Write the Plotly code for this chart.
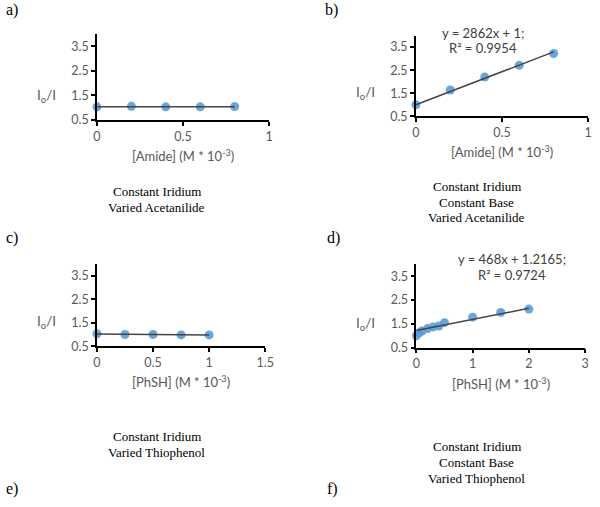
import numpy as np
import plotly.graph_objects as go

W, H = 600, 507

# ---------------- data ----------------
a_x = [0, 0.2, 0.4, 0.6, 0.8]
a_y = [1.03, 1.05, 1.03, 1.03, 1.04]

b_x = [0, 0.2, 0.4, 0.6, 0.8]
b_y = [1.0, 1.64, 2.2, 2.71, 3.22]
b_slope, b_intercept = 2862, 1.0          # y = 2862x + 1 (x in M)

c_x = [0, 0.25, 0.5, 0.75, 1.0]
c_y = [1.03, 1.0, 1.0, 0.98, 0.98]

d_x = [0, 0.05, 0.1, 0.2, 0.3, 0.4, 0.5, 1.0, 1.5, 2.0]
d_y = [1.0, 1.12, 1.2, 1.3, 1.37, 1.41, 1.55, 1.78, 1.98, 2.12]
d_slope, d_intercept = 468, 1.2165        # y = 468x + 1.2165 (x in M)

x_unit = 1e-3  # axis is M * 10^-3

y_ticks = [0.5, 1.5, 2.5, 3.5]

panel_letters = ["a)", "b)", "c)", "d)", "e)", "f)"]
eq_b = ["y = 2862x + 1;", "R² = 0.9954"]
eq_d = ["y = 468x + 1.2165;", "R² = 0.9724"]
cap_a = ["Constant Iridium", "Varied Acetanilide"]
cap_b = ["Constant Iridium", "Constant Base", "Varied Acetanilide"]
cap_c = ["Constant Iridium", "Varied Thiophenol"]
cap_d = ["Constant Iridium", "Constant Base", "Varied Thiophenol"]
xtitle_amide = "[Amide] (M * 10<sup>-3</sup>)"
xtitle_phsh = "[PhSH] (M * 10<sup>-3</sup>)"
ytitle = "I<sub>o</sub>/I"

# ---------------- style ----------------
SANS = "Lato, 'Open Sans', sans-serif"
TICKFONT = dict(family=SANS, size=12.5, color="#595959")
SERIF = "'Liberation Serif', 'Times New Roman', serif"
MARKER = dict(color="#5B9BD5", size=9, opacity=0.9)
TREND = dict(color="#454545", width=1.5)

def px_x(p):
    return p / W

def px_y(p):
    return 1 - p / H

def label(x, y, text, font, xanchor="center"):
    fig.add_annotation(x=px_x(x), y=px_y(y), xref="paper", yref="paper", text=text,
                       showarrow=False, xanchor=xanchor, yanchor="middle", font=font)

fig = go.Figure()

panels = [
    dict(i=1, x=a_x, y=a_y, fit=None, xr=[0, 1], dt=0.5, dx=(95, 271), dy=(34.5, 121.5), xt=xtitle_amide),
    dict(i=2, x=b_x, y=b_y, fit=(b_slope * x_unit, b_intercept), xr=[0, 1], dt=0.5, dx=(421, 597), dy=(36, 118), xt=xtitle_amide),
    dict(i=3, x=c_x, y=c_y, fit=None, xr=[0, 1.5], dt=0.5, dx=(95, 267), dy=(268, 351), xt=xtitle_phsh),
    dict(i=4, x=d_x, y=d_y, fit=(d_slope * x_unit, d_intercept), xr=[0, 3], dt=1, dx=(421.5, 594), dy=(268, 352.5), xt=xtitle_phsh),
]

for p in panels:
    i = p["i"]
    xa = "x" if i == 1 else f"x{i}"
    ya = "y" if i == 1 else f"y{i}"
    fig.add_trace(go.Scatter(x=p["x"], y=p["y"], mode="markers", marker=MARKER,
                             xaxis=xa, yaxis=ya, cliponaxis=False, showlegend=False))
    if p["fit"] is None:
        slope, intercept = np.polyfit(p["x"], p["y"], 1)
    else:
        slope, intercept = p["fit"]
    xs = [min(p["x"]), max(p["x"])]
    ys = [slope * v + intercept for v in xs]
    fig.add_trace(go.Scatter(x=xs, y=ys, mode="lines", line=TREND,
                             xaxis=xa, yaxis=ya, cliponaxis=False, showlegend=False))

    axis_common = dict(showline=True, linecolor="black", linewidth=1.5,
                       ticks="outside", ticklen=4, tickwidth=1.5, tickcolor="black",
                       showgrid=False, zeroline=False, tickfont=TICKFONT)
    xkey = "xaxis" if i == 1 else f"xaxis{i}"
    ykey = "yaxis" if i == 1 else f"yaxis{i}"
    fig.update_layout(**{
        xkey: dict(domain=[px_x(p["dx"][0]), px_x(p["dx"][1])], range=p["xr"],
                   dtick=p["dt"], tick0=0, anchor=ya, **axis_common),
        ykey: dict(domain=[px_y(p["dy"][1]), px_y(p["dy"][0])], range=[0.5, 4.0],
                   tickvals=y_ticks, ticktext=[str(v) for v in y_ticks],
                   anchor=xa, **axis_common),
    })
    label((p["dx"][0] + p["dx"][1]) / 2, p["dy"][1] + 36, p["xt"],
          dict(family=SANS, size=13, color="#595959"))
    label(p["dx"][0] - 52, p["dy"][1] - 24, ytitle,
          dict(family=SANS, size=13.5, color="#595959"))

# equations
for lines, cx, cy in [(eq_b, 490, 33), (eq_d, 519, 263)]:
    for k, t in enumerate(lines):
        label(cx, cy + 16 * k, t, dict(family=SANS, size=13, color="#404040"))

# captions
for lines, cx, cy in [(cap_a, 156, 194), (cap_b, 483, 189), (cap_c, 156, 443), (cap_d, 483, 453)]:
    for k, t in enumerate(lines):
        label(cx, cy + 16 * k, t, dict(family=SERIF, size=13, color="black"))

# panel letters
for t, (lx, ly) in zip(panel_letters, [(0, 10), (326, 10), (0, 241), (328, 241), (0, 496), (328, 496)]):
    label(lx, ly, t, dict(family=SERIF, size=16, color="black"), xanchor="left")

fig.update_layout(width=W, height=H, margin=dict(l=0, r=0, t=0, b=0),
                  paper_bgcolor="white", plot_bgcolor="white")

fig.write_html("out.html", config={"displayModeBar": False},
               post_script="document.body.style.margin='0';")
